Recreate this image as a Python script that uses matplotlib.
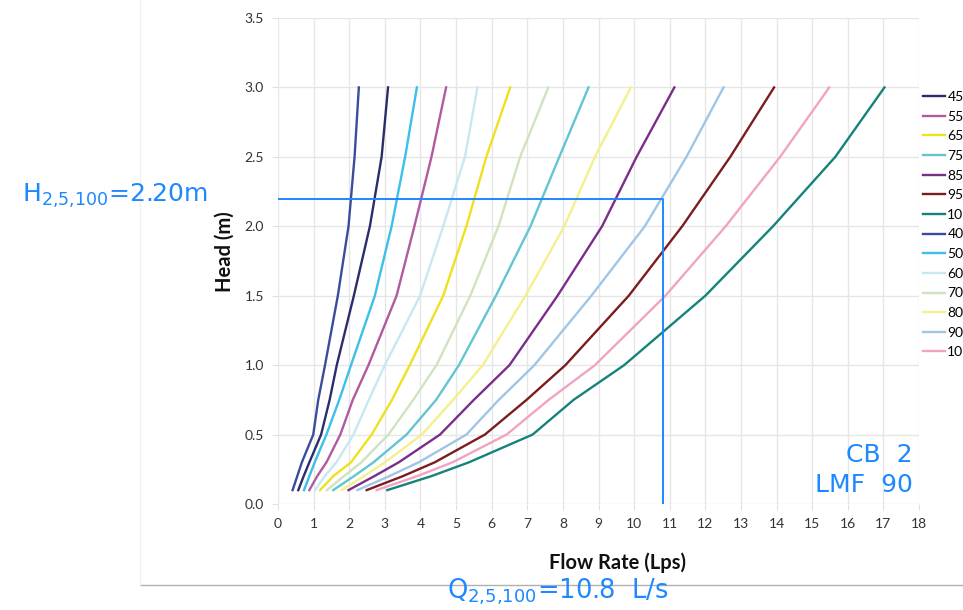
import matplotlib as mpl
import matplotlib.pyplot as plt
from matplotlib.lines import Line2D

heads = [0.1, 0.2, 0.3, 0.5, 0.75, 1.0, 1.5, 2.0, 2.5, 3.0]

# flow rate (Lps) per curve at the head levels above
q40 = [0.41, 0.54, 0.67, 0.99, 1.13, 1.32, 1.68, 1.98, 2.15, 2.27]
q45 = [0.57, 0.72, 0.88, 1.21, 1.45, 1.65, 2.13, 2.58, 2.91, 3.09]
q50 = [0.73, 0.88, 1.03, 1.36, 1.72, 2.05, 2.72, 3.19, 3.57, 3.90]
q55 = [0.88, 1.10, 1.36, 1.75, 2.10, 2.54, 3.33, 3.83, 4.31, 4.72]
q60 = [1.04, 1.31, 1.64, 2.12, 2.55, 3.00, 3.99, 4.64, 5.25, 5.60]
q65 = [1.18, 1.55, 2.05, 2.63, 3.20, 3.70, 4.64, 5.29, 5.85, 6.52]
q70 = [1.37, 1.85, 2.34, 3.10, 3.80, 4.45, 5.40, 6.19, 6.80, 7.59]
q75 = [1.55, 2.13, 2.68, 3.61, 4.44, 5.08, 6.12, 7.09, 7.90, 8.72]
q80 = [1.79, 2.41, 3.00, 4.04, 4.92, 5.75, 6.95, 8.04, 8.90, 9.91]
q85 = [1.98, 2.70, 3.39, 4.55, 5.50, 6.50, 7.85, 9.10, 10.07, 11.13]
q90 = [2.23, 3.12, 3.95, 5.29, 6.20, 7.20, 8.80, 10.30, 11.47, 12.51]
q95 = [2.49, 3.50, 4.40, 5.81, 6.98, 8.07, 9.85, 11.35, 12.70, 13.93]
q100 = [2.77, 3.90, 4.90, 6.42, 7.60, 8.90, 10.88, 12.57, 14.10, 15.48]
q105 = [3.07, 4.30, 5.36, 7.15, 8.30, 9.72, 12.00, 13.90, 15.65, 17.03]

# legend order as in the original (labels are cut at the page edge there)
labels = ["45", "55", "65", "75", "85", "95", "10",
          "40", "50", "60", "70", "80", "90", "10"]
series = [q45, q55, q65, q75, q85, q95, q105,
          q40, q50, q60, q70, q80, q90, q100]
colors = ["#2b2c6c", "#b15a9f", "#efe11f", "#63c5d1", "#7a2e8a", "#7b1d1e", "#16837a",
          "#3b4c9a", "#3cbfe8", "#c8e7f2", "#cfe3c0", "#f4f08c", "#9fc6e6", "#f0a4c1"]

q_design = 10.8
h_design = 2.2

mpl.rcParams['font.family'] = ['Lato', 'DejaVu Sans']
mpl.rcParams['mathtext.default'] = 'regular'

fig = plt.figure(figsize=(9.63, 6.10), dpi=100)
ax = fig.add_axes([278 / 963, 1 - 504 / 610, 641 / 963, 486 / 610])

for q, lab, c in zip(series, labels, colors):
    ax.plot(q, heads, color=c, lw=1.7, label=lab)

# design point lines
ax.plot([0, q_design, q_design], [h_design, h_design, 0], color="#1e88ff", lw=1.4)

ax.set_xlim(0, 18)
ax.set_ylim(0, 3.5)
ax.set_xticks(range(0, 19))
ax.set_yticks([0.0, 0.5, 1.0, 1.5, 2.0, 2.5, 3.0, 3.5])
ax.yaxis.set_major_formatter(mpl.ticker.FormatStrFormatter('%.1f'))
ax.grid(True, color="#e6e6e6", lw=1)
ax.set_axisbelow(True)
for s in ax.spines.values():
    s.set_visible(False)
ax.tick_params(length=4, color="#e0e0e0", labelsize=10, labelcolor="#333333", pad=6)

ax.set_xlabel("Flow Rate (Lps)", fontsize=14.5, fontweight="bold", color="#111111")
ax.xaxis.set_label_coords(0.529, -0.1)
ax.set_ylabel("Head (m)", fontsize=14.5, fontweight="bold", color="#111111")
ax.yaxis.set_label_coords(-0.068, 0.52)

fig.legend(loc="upper left", bbox_to_anchor=(923 / 963, 1 - 91 / 610), frameon=False,
           fontsize=10, handlelength=1.6, handletextpad=0.15, labelspacing=0.55,
           borderpad=0, borderaxespad=0)

# annotations
blue = "#1e88ff"
fig.text(22 / 963, 1 - 196 / 610, "H$_{2{,}5{,}100}$=2.20m", color=blue, fontsize=18,
         family="DejaVu Sans", va="center", ha="left")
fig.text(447 / 963, 1 - 592 / 610, "Q$_{2{,}5{,}100}$=10.8  L/s", color=blue, fontsize=18.5,
         family="DejaVu Sans", va="center", ha="left")
fig.text(913 / 963, 1 - 455 / 610, "CB  2", color=blue, fontsize=18,
         family="DejaVu Sans", va="center", ha="right")
fig.text(913 / 963, 1 - 485 / 610, "LMF  90", color=blue, fontsize=18,
         family="DejaVu Sans", va="center", ha="right")

# frame lines of the page
fig.add_artist(Line2D([140 / 963, 1], [1 - 585 / 610, 1 - 585 / 610],
                      color="#b0b0b0", lw=1, transform=fig.transFigure))
fig.add_artist(Line2D([140 / 963, 140 / 963], [1 - 585 / 610, 1],
                      color="#f0f0f0", lw=1, transform=fig.transFigure))

plt.savefig("out.png", dpi=100)
